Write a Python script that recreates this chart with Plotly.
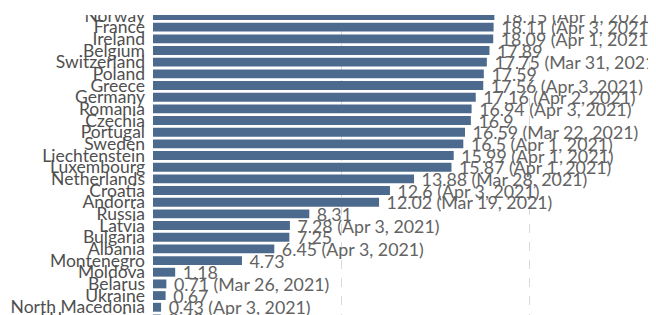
import plotly.graph_objects as go

countries = ["Norway", "France", "Ireland", "Belgium", "Switzerland", "Poland", "Greece",
             "Germany", "Romania", "Czechia", "Portugal", "Sweden", "Liechtenstein",
             "Luxembourg", "Netherlands", "Croatia", "Andorra", "Russia", "Latvia",
             "Bulgaria", "Albania", "Montenegro", "Moldova", "Belarus", "Ukraine",
             "North Macedonia", "Bosnia and Herzegovina"]
values = [18.15, 18.11, 18.09, 17.89, 17.75, 17.59, 17.56, 17.16, 16.94, 16.9, 16.59, 16.5,
          15.99, 15.87, 13.88, 12.6, 12.02, 8.31, 7.28, 7.25, 6.45, 4.73, 1.18, 0.71, 0.67,
          0.43, 0.42]
dates = ["Apr 1, 2021", "Apr 3, 2021", "Apr 1, 2021", "", "Mar 31, 2021", "", "Apr 3, 2021",
         "Apr 2, 2021", "Apr 3, 2021", "", "Mar 22, 2021", "Apr 1, 2021", "Apr 1, 2021",
         "Apr 1, 2021", "Mar 28, 2021", "Apr 3, 2021", "Mar 19, 2021", "", "Apr 3, 2021",
         "", "Apr 3, 2021", "", "", "Mar 26, 2021", "", "Apr 3, 2021", ""]

labels = ["\u00a0" + f"{v:g}" + (f" ({d})" if d else "") for v, d in zip(values, dates)]

fig = go.Figure(go.Bar(
    x=values, y=countries, orientation="h",
    marker=dict(color="#4C6A8E", line=dict(width=0)),
    width=0.76,
    text=labels, textposition="outside", constraintext="none", cliponaxis=False,
    textfont=dict(family="Lato", size=17.8, color="#636363"),
    hoverinfo="skip",
))

fig.update_layout(
    width=656, height=315,
    margin=dict(l=145, r=0, t=0, b=0),
    paper_bgcolor="white", plot_bgcolor="white",
    showlegend=False,
    xaxis=dict(range=[0, 27.17], dtick=10, showgrid=True, gridcolor="#d9d9d9",
               griddash="dash", gridwidth=1, showticklabels=False, zeroline=False,
               showline=False, automargin=False),
    yaxis=dict(type="category", range=[26.35, -0.643], showgrid=False,
               tickmode="array", tickvals=countries, ticktext=countries,
               tickfont=dict(family="Lato", size=17.5, color="#4f4f4f"),
               ticks="", ticklabelstandoff=7, showline=False, zeroline=False,
               automargin=False),
    shapes=[dict(type="rect", xref="paper", yref="paper", x0=-0.5, x1=1.5,
                 y0=1 - 7 / 315, y1=1.2, fillcolor="white", line=dict(width=0),
                 layer="above")],
)

fig.write_html("out.html")
